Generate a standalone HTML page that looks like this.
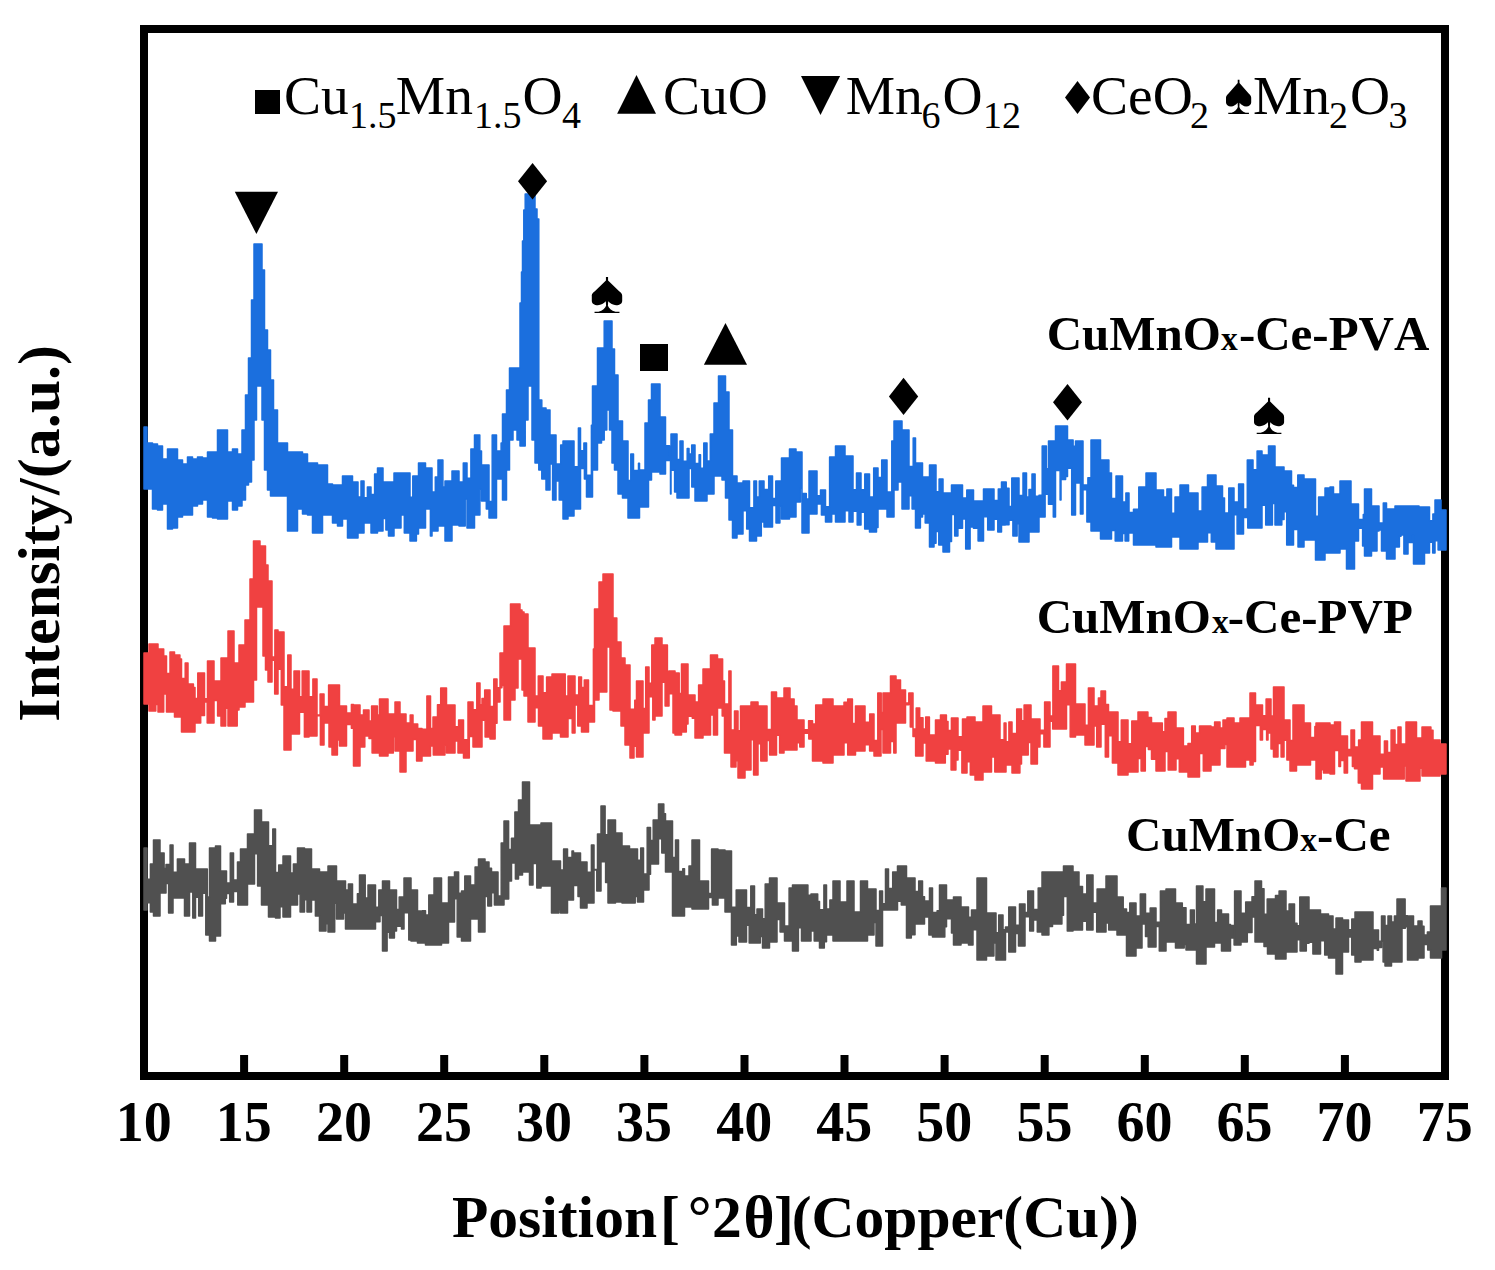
<!DOCTYPE html>
<html><head><meta charset="utf-8"><style>html,body{margin:0;padding:0;background:#fff;overflow:hidden}svg{display:block}</style></head>
<body><svg width="1495" height="1270" viewBox="0 0 1495 1270" style="font-kerning:none">
<rect width="1495" height="1270" fill="#fff"/>
<rect x="144" y="29" width="1301" height="1047" fill="none" stroke="#000" stroke-width="8"/>
<rect x="240.1" y="1055" width="8" height="18" fill="#000"/><rect x="340.2" y="1055" width="8" height="18" fill="#000"/><rect x="440.2" y="1055" width="8" height="18" fill="#000"/><rect x="540.3" y="1055" width="8" height="18" fill="#000"/><rect x="640.4" y="1055" width="8" height="18" fill="#000"/><rect x="740.5" y="1055" width="8" height="18" fill="#000"/><rect x="840.5" y="1055" width="8" height="18" fill="#000"/><rect x="940.6" y="1055" width="8" height="18" fill="#000"/><rect x="1040.7" y="1055" width="8" height="18" fill="#000"/><rect x="1140.8" y="1055" width="8" height="18" fill="#000"/><rect x="1240.8" y="1055" width="8" height="18" fill="#000"/><rect x="1340.9" y="1055" width="8" height="18" fill="#000"/>
<g stroke-width="1.5" stroke-linejoin="round">
<path d="M144.0 848.0 L147.0 848.0 L147.0 879.3 L150.4 879.3 L150.4 864.0 L153.5 864.0 L153.5 840.0 L156.6 840.0 L156.6 840.0 L160.0 840.0 L160.0 853.0 L164.1 853.0 L164.1 868.5 L166.0 868.5 L166.0 864.5 L170.1 864.5 L170.1 845.0 L173.0 845.0 L173.0 872.3 L177.4 872.3 L177.4 859.0 L179.5 859.0 L179.5 859.0 L184.5 859.0 L184.5 864.0 L187.6 864.0 L187.6 864.0 L189.5 864.0 L189.5 843.0 L195.5 843.0 L195.5 869.0 L202.5 869.0 L202.5 869.0 L207.3 869.0 L207.3 897.0 L209.5 897.0 L209.5 848.0 L212.9 848.0 L212.9 848.0 L215.5 848.0 L215.5 846.0 L220.5 846.0 L220.5 871.0 L226.5 871.0 L226.5 883.1 L230.3 883.1 L230.3 853.0 L233.5 853.0 L233.5 880.0 L237.5 880.0 L237.5 862.0 L240.5 862.0 L240.5 849.0 L247.5 849.0 L247.5 834.0 L254.5 834.0 L254.5 810.0 L261.5 810.0 L261.5 822.0 L268.5 822.0 L268.5 845.7 L272.8 845.7 L272.8 829.0 L275.5 829.0 L275.5 872.5 L278.7 872.5 L278.7 865.0 L283.0 865.0 L283.0 856.0 L286.4 856.0 L286.4 856.0 L290.5 856.0 L290.5 872.9 L293.4 872.9 L293.4 864.0 L297.5 864.0 L297.5 848.0 L300.7 848.0 L300.7 848.0 L304.5 848.0 L304.5 849.0 L311.5 849.0 L311.5 869.0 L319.5 869.0 L319.5 872.0 L324.8 872.0 L324.8 872.0 L328.0 872.0 L328.0 866.0 L331.3 866.0 L331.3 866.0 L336.5 866.0 L336.5 881.0 L340.4 881.0 L340.4 881.0 L345.5 881.0 L345.5 890.0 L348.4 890.0 L348.4 884.0 L352.5 884.0 L352.5 904.0 L357.4 904.0 L357.4 893.7 L359.5 893.7 L359.5 875.0 L365.2 875.0 L365.2 898.0 L368.0 898.0 L368.0 885.0 L372.9 885.0 L372.9 885.0 L375.5 885.0 L375.5 907.3 L378.8 907.3 L378.8 890.0 L382.5 890.0 L382.5 881.0 L385.6 881.0 L385.6 881.0 L389.5 881.0 L389.5 890.0 L392.6 890.0 L392.6 890.0 L396.5 890.0 L396.5 909.4 L399.2 909.4 L399.2 897.0 L404.0 897.0 L404.0 878.0 L408.6 878.0 L408.6 878.0 L411.0 878.0 L411.0 890.0 L414.1 890.0 L414.1 890.0 L417.5 890.0 L417.5 911.1 L422.4 911.1 L422.4 910.8 L425.5 910.8 L425.5 915.1 L428.8 915.1 L428.8 895.0 L434.0 895.0 L434.0 878.0 L438.7 878.0 L438.7 878.0 L441.5 878.0 L441.5 903.0 L448.5 903.0 L448.5 877.0 L452.9 877.0 L452.9 877.0 L454.5 877.0 L454.5 872.0 L458.6 872.0 L458.6 893.3 L461.5 893.3 L461.5 891.0 L464.8 891.0 L464.8 876.0 L470.5 876.0 L470.5 885.1 L475.1 885.1 L475.1 867.0 L478.5 867.0 L478.5 859.0 L485.0 859.0 L485.0 862.0 L489.0 862.0 L489.0 868.2 L491.5 868.2 L491.5 872.0 L498.0 872.0 L498.0 896.0 L501.2 896.0 L501.2 843.0 L504.0 843.0 L504.0 821.0 L508.6 821.0 L508.6 849.5 L511.5 849.5 L511.5 838.3 L514.9 838.3 L514.9 812.0 L518.5 812.0 L518.5 800.0 L522.5 800.0 L522.5 782.0 L526.0 782.0 L526.0 782.0 L529.5 782.0 L529.5 825.0 L533.0 825.0 L533.0 825.0 L541.0 825.0 L541.0 823.0 L547.4 823.0 L547.4 823.0 L551.5 823.0 L551.5 861.0 L556.8 861.0 L556.8 861.0 L560.5 861.0 L560.5 870.1 L563.6 870.1 L563.6 849.0 L567.5 849.0 L567.5 857.6 L572.0 857.6 L572.0 851.0 L573.5 851.0 L573.5 853.0 L580.5 853.0 L580.5 862.0 L587.0 862.0 L587.0 872.2 L591.4 872.2 L591.4 845.0 L594.0 845.0 L594.0 869.5 L597.5 869.5 L597.5 834.0 L601.0 834.0 L601.0 806.0 L605.1 806.0 L605.1 834.8 L608.0 834.8 L608.0 820.0 L611.9 820.0 L611.9 820.0 L615.5 820.0 L615.5 833.0 L619.3 833.0 L619.3 833.0 L622.0 833.0 L622.0 846.0 L629.5 846.0 L629.5 849.0 L632.5 849.0 L632.5 849.0 L637.5 849.0 L637.5 860.3 L640.7 860.3 L640.7 848.0 L643.5 848.0 L643.5 874.0 L647.2 874.0 L647.2 827.6 L650.5 827.6 L650.5 840.4 L653.2 840.4 L653.2 820.0 L658.5 820.0 L658.5 804.0 L663.8 804.0 L663.8 813.7 L665.5 813.7 L665.5 821.0 L672.5 821.0 L672.5 857.4 L675.5 857.4 L675.5 840.0 L678.5 840.0 L678.5 871.5 L682.8 871.5 L682.8 868.8 L684.5 868.8 L684.5 876.1 L689.0 876.1 L689.0 866.0 L692.0 866.0 L692.0 840.0 L696.9 840.0 L696.9 840.0 L699.5 840.0 L699.5 881.0 L705.7 881.0 L705.7 881.0 L708.5 881.0 L708.5 897.6 L711.6 897.6 L711.6 849.0 L718.0 849.0 L718.0 850.0 L722.9 850.0 L722.9 850.0 L725.0 850.0 L725.0 851.0 L731.5 851.0 L731.5 907.2 L736.2 907.2 L736.2 890.0 L739.0 890.0 L739.0 890.0 L745.0 890.0 L745.0 890.0 L746.5 890.0 L746.5 907.4 L750.8 907.4 L750.8 886.0 L754.5 886.0 L754.5 914.7 L757.0 914.7 L757.0 909.0 L762.5 909.0 L762.5 918.8 L765.2 918.8 L765.2 884.0 L769.5 884.0 L769.5 878.0 L772.6 878.0 L772.6 878.0 L777.0 878.0 L777.0 903.0 L784.5 903.0 L784.5 926.0 L789.1 926.0 L789.1 888.0 L792.5 888.0 L792.5 885.0 L799.0 885.0 L799.0 885.0 L801.5 885.0 L801.5 885.0 L807.9 885.0 L807.9 895.2 L811.0 895.2 L811.0 894.0 L817.7 894.0 L817.7 901.5 L819.5 901.5 L819.5 909.7 L823.9 909.7 L823.9 885.0 L826.5 885.0 L826.5 909.0 L829.9 909.0 L829.9 900.0 L833.0 900.0 L833.0 881.0 L840.0 881.0 L840.0 902.0 L847.0 902.0 L847.0 881.0 L854.0 881.0 L854.0 912.0 L860.5 912.0 L860.5 881.0 L865.7 881.0 L865.7 881.0 L867.5 881.0 L867.5 889.0 L870.9 889.0 L870.9 889.0 L876.0 889.0 L876.0 910.6 L879.6 910.6 L879.6 891.0 L882.5 891.0 L882.5 903.8 L885.5 903.8 L885.5 869.0 L888.5 869.0 L888.5 888.5 L892.7 888.5 L892.7 872.0 L897.5 872.0 L897.5 866.0 L902.4 866.0 L902.4 866.0 L906.5 866.0 L906.5 878.0 L910.7 878.0 L910.7 878.0 L915.0 878.0 L915.0 891.6 L918.7 891.6 L918.7 881.0 L922.5 881.0 L922.5 896.7 L924.5 896.7 L924.5 901.1 L929.5 901.1 L929.5 888.0 L932.5 888.0 L932.5 912.6 L937.1 912.6 L937.1 910.8 L939.5 910.8 L939.5 885.0 L944.3 885.0 L944.3 885.0 L946.5 885.0 L946.5 900.0 L950.5 900.0 L950.5 900.0 L953.5 900.0 L953.5 897.0 L961.0 897.0 L961.0 907.0 L968.5 907.0 L968.5 917.2 L971.5 917.2 L971.5 910.0 L975.3 910.0 L975.3 910.0 L977.0 910.0 L977.0 878.0 L981.1 878.0 L981.1 878.0 L986.5 878.0 L986.5 913.0 L991.4 913.0 L991.4 913.0 L996.0 913.0 L996.0 932.8 L998.7 932.8 L998.7 915.0 L1003.0 915.0 L1003.0 929.7 L1005.5 929.7 L1005.5 926.9 L1008.8 926.9 L1008.8 907.0 L1015.5 907.0 L1015.5 925.3 L1019.5 925.3 L1019.5 904.0 L1025.0 904.0 L1025.0 912.4 L1027.8 912.4 L1027.8 891.0 L1033.5 891.0 L1033.5 909.5 L1038.2 909.5 L1038.2 888.0 L1042.0 888.0 L1042.0 872.0 L1046.7 872.0 L1046.7 872.0 L1052.5 872.0 L1052.5 872.0 L1056.8 872.0 L1056.8 872.0 L1063.5 872.0 L1063.5 866.0 L1067.7 866.0 L1067.7 866.0 L1073.0 866.0 L1073.0 872.0 L1079.0 872.0 L1079.0 886.4 L1082.5 886.4 L1082.5 893.9 L1086.8 893.9 L1086.8 875.0 L1093.0 875.0 L1093.0 903.1 L1097.1 903.1 L1097.1 889.0 L1100.9 889.0 L1100.9 889.0 L1106.0 889.0 L1106.0 876.0 L1113.2 876.0 L1113.2 876.0 L1117.0 876.0 L1117.0 897.0 L1123.2 897.0 L1123.2 909.1 L1126.5 909.1 L1126.5 912.4 L1129.8 912.4 L1129.8 903.0 L1133.1 903.0 L1133.1 903.0 L1136.0 903.0 L1136.0 915.9 L1140.3 915.9 L1140.3 894.0 L1145.5 894.0 L1145.5 913.2 L1150.2 913.2 L1150.2 908.0 L1156.0 908.0 L1156.0 922.2 L1160.4 922.2 L1160.4 891.0 L1166.0 891.0 L1166.0 889.0 L1171.4 889.0 L1171.4 889.0 L1175.5 889.0 L1175.5 903.0 L1182.3 903.0 L1182.3 907.7 L1186.0 907.7 L1186.0 924.4 L1190.4 924.4 L1190.4 910.0 L1194.3 910.0 L1194.3 924.1 L1196.5 924.1 L1196.5 886.0 L1202.9 886.0 L1202.9 901.8 L1206.0 901.8 L1206.0 889.0 L1211.4 889.0 L1211.4 889.0 L1214.5 889.0 L1214.5 922.5 L1217.6 922.5 L1217.6 910.0 L1221.5 910.0 L1221.5 914.0 L1228.5 914.0 L1228.5 924.5 L1230.5 924.5 L1230.5 937.9 L1234.6 937.9 L1234.6 891.0 L1241.0 891.0 L1241.0 913.2 L1245.7 913.2 L1245.7 902.0 L1252.0 902.0 L1252.0 896.8 L1255.0 896.8 L1255.0 881.0 L1261.5 881.0 L1261.5 888.7 L1264.0 888.7 L1264.0 914.3 L1267.2 914.3 L1267.2 899.0 L1272.4 899.0 L1272.4 899.0 L1275.5 899.0 L1275.5 895.4 L1279.1 895.4 L1279.1 891.0 L1286.0 891.0 L1286.0 911.0 L1289.1 911.0 L1289.1 904.0 L1294.5 904.0 L1294.5 923.2 L1297.0 923.2 L1297.0 925.8 L1299.8 925.8 L1299.8 897.0 L1305.5 897.0 L1305.5 897.0 L1309.0 897.0 L1309.0 910.0 L1313.5 910.0 L1313.5 910.0 L1320.5 910.0 L1320.5 914.0 L1325.5 914.0 L1325.5 914.0 L1328.5 914.0 L1328.5 916.0 L1333.0 916.0 L1333.0 929.0 L1336.0 929.0 L1336.0 918.0 L1338.5 918.0 L1338.5 918.0 L1342.5 918.0 L1342.5 920.0 L1348.5 920.0 L1348.5 929.8 L1351.8 929.8 L1351.8 919.0 L1355.0 919.0 L1355.0 912.0 L1358.8 912.0 L1358.8 912.0 L1361.0 912.0 L1361.0 912.0 L1367.0 912.0 L1367.0 912.0 L1373.0 912.0 L1373.0 930.0 L1378.5 930.0 L1378.5 947.4 L1381.5 947.4 L1381.5 916.0 L1385.0 916.0 L1385.0 925.5 L1388.0 925.5 L1388.0 916.0 L1391.5 916.0 L1391.5 921.9 L1394.4 921.9 L1394.4 916.0 L1397.0 916.0 L1397.0 899.0 L1402.0 899.0 L1402.0 899.0 L1405.1 899.0 L1405.1 915.7 L1407.5 915.7 L1407.5 916.0 L1413.5 916.0 L1413.5 926.0 L1418.0 926.0 L1418.0 921.0 L1422.0 921.0 L1422.0 926.2 L1424.0 926.2 L1424.0 934.9 L1427.4 934.9 L1427.4 932.0 L1430.5 932.0 L1430.5 906.0 L1436.0 906.0 L1436.0 906.0 L1441.5 906.0 L1441.5 888.0 L1445.0 888.0 L1445.0 888.0 L1446.0 888.0 L1446.0 950.0 L1445.0 950.0 L1445.0 950.0 L1441.5 950.0 L1441.5 958.0 L1439.5 958.0 L1439.5 958.0 L1436.0 958.0 L1436.0 958.0 L1430.5 958.0 L1430.5 950.0 L1427.7 950.0 L1427.7 944.5 L1424.0 944.5 L1424.0 958.0 L1418.0 958.0 L1418.0 960.0 L1413.5 960.0 L1413.5 960.0 L1407.5 960.0 L1407.5 926.7 L1405.3 926.7 L1405.3 928.3 L1402.0 928.3 L1402.0 962.0 L1400.4 962.0 L1400.4 962.0 L1397.0 962.0 L1397.0 962.0 L1391.5 962.0 L1391.5 966.0 L1385.0 966.0 L1385.0 962.0 L1383.1 962.0 L1383.1 941.2 L1378.5 941.2 L1378.5 950.2 L1377.3 950.2 L1377.3 948.4 L1373.0 948.4 L1373.0 960.0 L1367.0 960.0 L1367.0 960.0 L1361.0 960.0 L1361.0 962.0 L1355.0 962.0 L1355.0 955.0 L1351.7 955.0 L1351.7 937.0 L1348.5 937.0 L1348.5 952.0 L1342.5 952.0 L1342.5 974.0 L1338.5 974.0 L1338.5 974.0 L1336.0 974.0 L1336.0 958.0 L1333.0 958.0 L1333.0 958.0 L1328.5 958.0 L1328.5 955.0 L1324.7 955.0 L1324.7 940.8 L1320.5 940.8 L1320.5 954.0 L1312.9 954.0 L1312.9 942.2 L1309.0 942.2 L1309.0 943.3 L1306.3 943.3 L1306.3 951.0 L1300.1 951.0 L1300.1 939.8 L1297.0 939.8 L1297.0 952.0 L1290.8 952.0 L1290.8 952.0 L1286.0 952.0 L1286.0 959.0 L1283.9 959.0 L1283.9 959.0 L1278.7 959.0 L1278.7 959.0 L1275.5 959.0 L1275.5 954.0 L1267.5 954.0 L1267.5 946.4 L1264.0 946.4 L1264.0 942.0 L1259.0 942.0 L1259.0 942.0 L1255.0 942.0 L1255.0 917.1 L1252.0 917.1 L1252.0 932.5 L1247.3 932.5 L1247.3 942.0 L1241.0 942.0 L1241.0 945.0 L1239.5 945.0 L1239.5 945.0 L1234.1 945.0 L1234.1 925.6 L1230.5 925.6 L1230.5 951.0 L1225.4 951.0 L1225.4 951.0 L1221.5 951.0 L1221.5 943.0 L1214.5 943.0 L1214.5 947.0 L1211.4 947.0 L1211.4 947.0 L1206.0 947.0 L1206.0 964.0 L1200.5 964.0 L1200.5 964.0 L1196.5 964.0 L1196.5 950.0 L1191.4 950.0 L1191.4 950.0 L1186.0 950.0 L1186.0 944.5 L1184.2 944.5 L1184.2 948.0 L1179.4 948.0 L1179.4 948.0 L1175.5 948.0 L1175.5 942.0 L1170.9 942.0 L1170.9 942.0 L1166.0 942.0 L1166.0 951.0 L1162.3 951.0 L1162.3 951.0 L1159.3 951.0 L1159.3 926.5 L1156.0 926.5 L1156.0 947.0 L1148.2 947.0 L1148.2 936.6 L1145.5 936.6 L1145.5 924.1 L1142.0 924.1 L1142.0 948.0 L1136.0 948.0 L1136.0 956.0 L1131.8 956.0 L1131.8 956.0 L1126.5 956.0 L1126.5 935.0 L1120.8 935.0 L1120.8 935.0 L1117.0 935.0 L1117.0 930.0 L1113.3 930.0 L1113.3 930.0 L1108.7 930.0 L1108.7 923.0 L1106.0 923.0 L1106.0 932.0 L1101.0 932.0 L1101.0 932.0 L1096.7 932.0 L1096.7 912.2 L1093.0 912.2 L1093.0 930.0 L1086.7 930.0 L1086.7 921.2 L1082.5 921.2 L1082.5 930.0 L1079.7 930.0 L1079.7 930.0 L1073.0 930.0 L1073.0 931.0 L1067.3 931.0 L1067.3 896.4 L1063.5 896.4 L1063.5 915.2 L1061.9 915.2 L1061.9 924.0 L1058.3 924.0 L1058.3 924.0 L1052.5 924.0 L1052.5 926.4 L1048.9 926.4 L1048.9 935.0 L1042.0 935.0 L1042.0 932.0 L1037.3 932.0 L1037.3 919.9 L1033.5 919.9 L1033.5 931.0 L1029.7 931.0 L1029.7 916.8 L1025.0 916.8 L1025.0 946.0 L1018.5 946.0 L1018.5 933.4 L1015.5 933.4 L1015.5 952.0 L1008.8 952.0 L1008.8 932.1 L1005.5 932.1 L1005.5 960.0 L1000.9 960.0 L1000.9 960.0 L996.0 960.0 L996.0 942.9 L993.9 942.9 L993.9 956.0 L986.5 956.0 L986.5 960.0 L982.2 960.0 L982.2 960.0 L977.0 960.0 L977.0 929.7 L973.0 929.7 L973.0 945.0 L968.5 945.0 L968.5 943.0 L964.6 943.0 L964.6 943.0 L961.0 943.0 L961.0 945.0 L953.5 945.0 L953.5 933.0 L951.5 933.0 L951.5 918.8 L946.5 918.8 L946.5 926.7 L944.8 926.7 L944.8 937.0 L939.5 937.0 L939.5 937.0 L936.2 937.0 L936.2 937.0 L932.5 937.0 L932.5 935.0 L928.9 935.0 L928.9 916.9 L924.5 916.9 L924.5 924.0 L921.6 924.0 L921.6 924.0 L915.0 924.0 L915.0 934.7 L911.3 934.7 L911.3 938.0 L906.5 938.0 L906.5 905.0 L901.3 905.0 L901.3 901.2 L897.5 901.2 L897.5 910.0 L892.3 910.0 L892.3 910.0 L888.5 910.0 L888.5 910.0 L886.4 910.0 L886.4 910.0 L882.5 910.0 L882.5 946.0 L876.0 946.0 L876.0 922.5 L874.0 922.5 L874.0 935.0 L867.5 935.0 L867.5 941.0 L863.6 941.0 L863.6 941.0 L860.5 941.0 L860.5 941.0 L854.0 941.0 L854.0 941.0 L851.1 941.0 L851.1 941.0 L847.0 941.0 L847.0 941.0 L840.0 941.0 L840.0 941.0 L836.3 941.0 L836.3 941.0 L833.0 941.0 L833.0 935.0 L830.1 935.0 L830.1 935.0 L826.5 935.0 L826.5 941.7 L824.3 941.7 L824.3 948.0 L819.5 948.0 L819.5 941.0 L814.2 941.0 L814.2 931.1 L811.0 931.1 L811.0 941.0 L805.4 941.0 L805.4 941.0 L801.5 941.0 L801.5 927.7 L798.4 927.7 L798.4 951.0 L792.5 951.0 L792.5 941.0 L788.3 941.0 L788.3 941.0 L784.5 941.0 L784.5 932.0 L780.1 932.0 L780.1 919.4 L777.0 919.4 L777.0 942.0 L773.7 942.0 L773.7 942.0 L769.5 942.0 L769.5 948.0 L765.8 948.0 L765.8 948.0 L762.5 948.0 L762.5 936.5 L760.3 936.5 L760.3 943.0 L754.5 943.0 L754.5 943.0 L749.2 943.0 L749.2 925.3 L746.5 925.3 L746.5 942.0 L742.4 942.0 L742.4 942.0 L739.0 942.0 L739.0 935.9 L736.3 935.9 L736.3 945.0 L731.5 945.0 L731.5 912.0 L725.0 912.0 L725.0 898.0 L722.4 898.0 L722.4 898.0 L718.0 898.0 L718.0 905.0 L712.4 905.0 L712.4 893.5 L708.5 893.5 L708.5 909.0 L704.8 909.0 L704.8 909.0 L699.5 909.0 L699.5 909.0 L695.5 909.0 L695.5 909.0 L692.0 909.0 L692.0 907.0 L689.7 907.0 L689.7 907.0 L684.5 907.0 L684.5 916.0 L678.5 916.0 L678.5 916.0 L672.5 916.0 L672.5 872.0 L665.5 872.0 L665.5 853.0 L661.8 853.0 L661.8 838.7 L658.5 838.7 L658.5 864.0 L655.5 864.0 L655.5 864.0 L650.5 864.0 L650.5 874.2 L649.0 874.2 L649.0 890.0 L643.5 890.0 L643.5 902.0 L637.5 902.0 L637.5 896.4 L635.2 896.4 L635.2 903.0 L629.5 903.0 L629.5 903.0 L622.0 903.0 L622.0 902.0 L615.5 902.0 L615.5 903.0 L608.0 903.0 L608.0 882.4 L605.6 882.4 L605.6 861.8 L601.0 861.8 L601.0 891.0 L596.8 891.0 L596.8 869.9 L594.0 869.9 L594.0 903.0 L587.0 903.0 L587.0 908.0 L580.5 908.0 L580.5 896.5 L578.0 896.5 L578.0 885.6 L573.5 885.6 L573.5 900.0 L570.9 900.0 L570.9 900.0 L567.5 900.0 L567.5 913.0 L565.0 913.0 L565.0 913.0 L560.5 913.0 L560.5 909.7 L558.9 909.7 L558.9 913.0 L551.5 913.0 L551.5 886.0 L546.1 886.0 L546.1 886.0 L541.0 886.0 L541.0 888.0 L536.8 888.0 L536.8 863.6 L533.0 863.6 L533.0 885.0 L529.5 885.0 L529.5 872.0 L526.0 872.0 L526.0 872.0 L522.5 872.0 L522.5 875.0 L518.5 875.0 L518.5 879.0 L515.4 879.0 L515.4 863.0 L511.5 863.0 L511.5 881.1 L508.7 881.1 L508.7 899.0 L504.0 899.0 L504.0 905.0 L498.0 905.0 L498.0 905.0 L494.4 905.0 L494.4 892.7 L491.5 892.7 L491.5 906.0 L487.8 906.0 L487.8 896.4 L485.0 896.4 L485.0 932.0 L478.5 932.0 L478.5 919.0 L475.4 919.0 L475.4 919.0 L470.5 919.0 L470.5 941.0 L467.4 941.0 L467.4 941.0 L461.5 941.0 L461.5 937.0 L457.2 937.0 L457.2 898.7 L454.5 898.7 L454.5 922.0 L452.8 922.0 L452.8 922.0 L448.5 922.0 L448.5 943.0 L441.5 943.0 L441.5 945.0 L434.0 945.0 L434.0 945.0 L425.5 945.0 L425.5 943.0 L422.9 943.0 L422.9 943.0 L417.5 943.0 L417.5 941.0 L411.0 941.0 L411.0 940.0 L408.8 940.0 L408.8 912.7 L404.0 912.7 L404.0 928.9 L401.5 928.9 L401.5 926.2 L396.5 926.2 L396.5 931.0 L394.4 931.0 L394.4 938.0 L389.5 938.0 L389.5 932.2 L387.1 932.2 L387.1 951.0 L382.5 951.0 L382.5 915.4 L380.0 915.4 L380.0 921.7 L375.5 921.7 L375.5 929.0 L371.5 929.0 L371.5 929.0 L368.0 929.0 L368.0 929.0 L364.1 929.0 L364.1 929.0 L359.5 929.0 L359.5 929.0 L352.5 929.0 L352.5 929.0 L345.5 929.0 L345.5 912.9 L343.5 912.9 L343.5 919.0 L336.5 919.0 L336.5 903.2 L334.7 903.2 L334.7 932.0 L328.0 932.0 L328.0 923.8 L326.0 923.8 L326.0 931.0 L319.5 931.0 L319.5 916.0 L315.4 916.0 L315.4 899.9 L311.5 899.9 L311.5 912.0 L307.0 912.0 L307.0 899.7 L304.5 899.7 L304.5 912.0 L300.1 912.0 L300.1 894.1 L297.5 894.1 L297.5 905.0 L293.9 905.0 L293.9 905.0 L290.5 905.0 L290.5 917.0 L286.5 917.0 L286.5 917.0 L283.0 917.0 L283.0 906.7 L280.0 906.7 L280.0 918.0 L275.5 918.0 L275.5 917.0 L268.5 917.0 L268.5 905.0 L261.5 905.0 L261.5 886.0 L257.6 886.0 L257.6 853.7 L254.5 853.7 L254.5 884.0 L252.6 884.0 L252.6 884.0 L247.5 884.0 L247.5 905.0 L240.5 905.0 L240.5 905.0 L237.8 905.0 L237.8 891.4 L233.5 891.4 L233.5 902.0 L229.7 902.0 L229.7 893.4 L226.5 893.4 L226.5 898.3 L225.3 898.3 L225.3 903.7 L220.5 903.7 L220.5 936.0 L215.5 936.0 L215.5 941.0 L209.5 941.0 L209.5 935.0 L205.8 935.0 L205.8 893.3 L202.5 893.3 L202.5 916.0 L198.7 916.0 L198.7 897.2 L195.5 897.2 L195.5 918.0 L192.8 918.0 L192.8 892.0 L189.5 892.0 L189.5 916.0 L184.5 916.0 L184.5 898.0 L179.5 898.0 L179.5 898.0 L176.9 898.0 L176.9 898.0 L173.0 898.0 L173.0 913.0 L168.6 913.0 L168.6 883.6 L166.0 883.6 L166.0 893.0 L163.1 893.0 L163.1 893.0 L160.0 893.0 L160.0 916.0 L153.5 916.0 L153.5 912.0 L150.4 912.0 L150.4 902.8 L147.0 902.8 L147.0 910.0 L144.0 910.0Z" fill="#505050" stroke="#505050"/>
<path d="M144.0 653.0 L149.0 653.0 L149.0 644.0 L152.3 644.0 L152.3 644.0 L155.6 644.0 L155.6 644.0 L158.0 644.0 L158.0 649.0 L163.7 649.0 L163.7 656.0 L166.5 656.0 L166.5 673.5 L170.0 673.5 L170.0 652.0 L174.5 652.0 L174.5 655.0 L179.9 655.0 L179.9 658.9 L181.5 658.9 L181.5 678.5 L185.2 678.5 L185.2 663.0 L188.0 663.0 L188.0 684.0 L193.4 684.0 L193.4 687.4 L195.0 687.4 L195.0 698.4 L197.8 698.4 L197.8 673.0 L204.5 673.0 L204.5 698.7 L207.5 698.7 L207.5 661.0 L214.0 661.0 L214.0 681.0 L221.0 681.0 L221.0 658.0 L228.0 658.0 L228.0 631.0 L234.0 631.0 L234.0 663.0 L239.0 663.0 L239.0 645.0 L245.0 645.0 L245.0 620.0 L250.0 620.0 L250.0 579.0 L253.5 579.0 L253.5 541.0 L256.5 541.0 L256.5 541.0 L260.0 541.0 L260.0 546.0 L263.0 546.0 L263.0 546.0 L265.5 546.0 L265.5 565.0 L268.0 565.0 L268.0 581.0 L272.0 581.0 L272.0 656.9 L274.9 656.9 L274.9 630.0 L278.0 630.0 L278.0 632.0 L282.4 632.0 L282.4 632.0 L284.0 632.0 L284.0 686.8 L287.8 686.8 L287.8 655.0 L291.0 655.0 L291.0 689.2 L294.0 689.2 L294.0 671.0 L299.5 671.0 L299.5 696.8 L302.2 696.8 L302.2 671.0 L309.0 671.0 L309.0 696.8 L312.9 696.8 L312.9 679.0 L317.0 679.0 L317.0 714.9 L320.1 714.9 L320.1 694.0 L324.0 694.0 L324.0 706.4 L328.6 706.4 L328.6 685.0 L332.0 685.0 L332.0 685.0 L336.9 685.0 L336.9 685.0 L339.5 685.0 L339.5 706.0 L344.1 706.0 L344.1 706.0 L346.5 706.0 L346.5 713.1 L351.4 713.1 L351.4 704.6 L353.5 704.6 L353.5 705.0 L357.2 705.0 L357.2 705.0 L360.0 705.0 L360.0 715.0 L363.5 715.0 L363.5 710.0 L369.0 710.0 L369.0 721.0 L371.6 721.0 L371.6 706.0 L377.4 706.0 L377.4 715.1 L379.5 715.1 L379.5 699.0 L384.5 699.0 L384.5 699.0 L388.0 699.0 L388.0 714.0 L395.0 714.0 L395.0 702.0 L400.0 702.0 L400.0 714.0 L406.0 714.0 L406.0 723.1 L410.2 723.1 L410.2 715.0 L413.0 715.0 L413.0 724.1 L417.7 724.1 L417.7 728.6 L422.0 728.6 L422.0 729.3 L426.9 729.3 L426.9 696.0 L430.5 696.0 L430.5 728.6 L433.0 728.6 L433.0 717.0 L437.5 717.0 L437.5 704.8 L440.7 704.8 L440.7 688.0 L444.4 688.0 L444.4 688.0 L446.5 688.0 L446.5 705.0 L455.0 705.0 L455.0 726.7 L458.6 726.7 L458.6 720.0 L463.5 720.0 L463.5 739.8 L468.0 739.8 L468.0 702.0 L473.0 702.0 L473.0 709.8 L476.8 709.8 L476.8 683.0 L480.0 683.0 L480.0 704.7 L482.0 704.7 L482.0 698.5 L484.7 698.5 L484.7 690.0 L490.0 690.0 L490.0 706.4 L493.8 706.4 L493.8 679.0 L497.0 679.0 L497.0 702.1 L500.0 702.1 L500.0 653.0 L504.0 653.0 L504.0 626.0 L509.0 626.0 L509.0 626.0 L510.5 626.0 L510.5 604.0 L515.0 604.0 L515.0 604.0 L518.0 604.0 L518.0 604.0 L520.0 604.0 L520.0 610.0 L522.0 610.0 L522.0 612.0 L524.0 612.0 L524.0 614.0 L528.0 614.0 L528.0 648.0 L532.7 648.0 L532.7 648.0 L535.0 648.0 L535.0 695.9 L538.3 695.9 L538.3 676.0 L543.0 676.0 L543.0 692.8 L546.6 692.8 L546.6 677.0 L552.0 677.0 L552.0 674.0 L557.6 674.0 L557.6 674.0 L560.5 674.0 L560.5 674.0 L565.2 674.0 L565.2 696.1 L568.0 696.1 L568.0 676.0 L575.0 676.0 L575.0 695.1 L578.7 695.1 L578.7 677.0 L581.5 677.0 L581.5 687.6 L584.3 687.6 L584.3 680.0 L588.5 680.0 L588.5 705.4 L593.4 705.4 L593.4 649.0 L594.5 649.0 L594.5 609.0 L599.0 609.0 L599.0 582.0 L603.0 582.0 L603.0 574.0 L606.8 574.0 L606.8 574.0 L610.0 574.0 L610.0 574.0 L613.0 574.0 L613.0 618.0 L616.8 618.0 L616.8 642.0 L621.0 642.0 L621.0 658.0 L625.0 658.0 L625.0 665.0 L630.0 665.0 L630.0 709.2 L634.8 709.2 L634.8 700.3 L636.5 700.3 L636.5 681.0 L640.2 681.0 L640.2 681.0 L643.0 681.0 L643.0 708.4 L645.7 708.4 L645.7 667.0 L649.0 667.0 L649.0 683.3 L651.8 683.3 L651.8 645.0 L655.0 645.0 L655.0 638.0 L662.0 638.0 L662.0 645.0 L667.4 645.0 L667.4 671.2 L669.0 671.2 L669.0 671.0 L672.4 671.0 L672.4 671.0 L675.0 671.0 L675.0 673.0 L679.2 673.0 L679.2 693.5 L681.5 693.5 L681.5 664.0 L688.0 664.0 L688.0 695.0 L695.0 695.0 L695.0 701.9 L698.6 701.9 L698.6 685.0 L703.0 685.0 L703.0 669.0 L706.8 669.0 L706.8 669.0 L710.5 669.0 L710.5 655.0 L715.3 655.0 L715.3 655.0 L717.5 655.0 L717.5 659.0 L722.6 659.0 L722.6 680.9 L724.5 680.9 L724.5 703.9 L728.9 703.9 L728.9 671.0 L731.0 671.0 L731.0 730.0 L734.5 730.0 L734.5 711.0 L738.0 711.0 L738.0 730.7 L740.5 730.7 L740.5 706.0 L745.0 706.0 L745.0 706.0 L751.0 706.0 L751.0 702.0 L754.1 702.0 L754.1 702.0 L758.0 702.0 L758.0 706.0 L763.7 706.0 L763.7 706.0 L767.0 706.0 L767.0 729.5 L771.5 729.5 L771.5 692.0 L776.5 692.0 L776.5 698.0 L782.1 698.0 L782.1 698.0 L784.0 698.0 L784.0 688.0 L790.0 688.0 L790.0 699.0 L794.1 699.0 L794.1 706.1 L797.0 706.1 L797.0 720.0 L800.3 720.0 L800.3 720.0 L804.0 720.0 L804.0 733.2 L808.6 733.2 L808.6 720.8 L812.5 720.8 L812.5 724.0 L815.7 724.0 L815.7 705.0 L818.8 705.0 L818.8 705.0 L823.0 705.0 L823.0 699.0 L826.8 699.0 L826.8 699.0 L833.0 699.0 L833.0 706.0 L839.0 706.0 L839.0 706.0 L844.0 706.0 L844.0 702.2 L847.7 702.2 L847.7 699.0 L852.4 699.0 L852.4 723.5 L855.5 723.5 L855.5 706.0 L860.9 706.0 L860.9 706.0 L865.0 706.0 L865.0 722.2 L869.7 722.2 L869.7 714.0 L874.0 714.0 L874.0 740.6 L877.8 740.6 L877.8 693.0 L881.2 693.0 L881.2 712.4 L883.0 712.4 L883.0 693.0 L888.9 693.0 L888.9 693.0 L890.5 693.0 L890.5 676.0 L896.0 676.0 L896.0 680.0 L900.5 680.0 L900.5 690.0 L905.5 690.0 L905.5 704.8 L908.8 704.8 L908.8 693.0 L913.0 693.0 L913.0 728.9 L916.2 728.9 L916.2 708.0 L919.7 708.0 L919.7 717.8 L923.0 717.8 L923.0 728.9 L925.7 728.9 L925.7 717.0 L929.4 717.0 L929.4 735.0 L935.5 735.0 L935.5 719.9 L940.5 719.9 L940.5 715.0 L946.4 715.0 L946.4 721.5 L948.0 721.5 L948.0 730.4 L951.4 730.4 L951.4 718.0 L958.0 718.0 L958.0 736.8 L962.5 736.8 L962.5 719.0 L967.0 719.0 L967.0 717.0 L971.5 717.0 L971.5 717.0 L975.0 717.0 L975.0 722.0 L980.3 722.0 L980.3 722.0 L983.0 722.0 L983.0 706.0 L989.4 706.0 L989.4 706.0 L991.5 706.0 L991.5 715.0 L1000.0 715.0 L1000.0 739.7 L1004.1 739.7 L1004.1 723.0 L1006.0 723.0 L1006.0 741.7 L1008.9 741.7 L1008.9 722.0 L1012.0 722.0 L1012.0 733.6 L1016.7 733.6 L1016.7 709.0 L1021.5 709.0 L1021.5 720.8 L1024.1 720.8 L1024.1 705.0 L1028.7 705.0 L1028.7 705.0 L1031.0 705.0 L1031.0 719.0 L1036.0 719.0 L1036.0 719.0 L1040.0 719.0 L1040.0 730.2 L1044.6 730.2 L1044.6 702.0 L1050.0 702.0 L1050.0 716.1 L1052.9 716.1 L1052.9 666.0 L1058.5 666.0 L1058.5 690.8 L1061.4 690.8 L1061.4 682.0 L1066.5 682.0 L1066.5 664.0 L1070.6 664.0 L1070.6 664.0 L1075.5 664.0 L1075.5 704.0 L1079.6 704.0 L1079.6 704.0 L1085.0 704.0 L1085.0 725.3 L1088.4 725.3 L1088.4 688.0 L1091.7 688.0 L1091.7 688.0 L1094.0 688.0 L1094.0 706.0 L1098.4 706.0 L1098.4 698.0 L1101.0 698.0 L1101.0 691.0 L1105.5 691.0 L1105.5 704.5 L1108.5 704.5 L1108.5 712.0 L1113.3 712.0 L1113.3 712.0 L1118.0 712.0 L1118.0 741.8 L1121.3 741.8 L1121.3 720.0 L1128.0 720.0 L1128.0 743.7 L1131.8 743.7 L1131.8 721.0 L1138.0 721.0 L1138.0 712.0 L1143.0 712.0 L1143.0 712.0 L1147.9 712.0 L1147.9 717.5 L1151.5 717.5 L1151.5 723.0 L1155.1 723.0 L1155.1 723.0 L1162.3 723.0 L1162.3 731.7 L1165.0 731.7 L1165.0 718.4 L1168.0 718.4 L1168.0 712.0 L1171.5 712.0 L1171.5 712.0 L1176.0 712.0 L1176.0 728.0 L1183.4 728.0 L1183.4 746.1 L1188.0 746.1 L1188.0 743.5 L1191.7 743.5 L1191.7 726.0 L1195.3 726.0 L1195.3 733.0 L1199.5 733.0 L1199.5 726.0 L1206.2 726.0 L1206.2 726.0 L1211.0 726.0 L1211.0 726.9 L1214.6 726.9 L1214.6 722.0 L1220.0 722.0 L1220.0 727.9 L1223.0 727.9 L1223.0 720.0 L1227.0 720.0 L1227.0 718.0 L1234.0 718.0 L1234.0 723.0 L1240.0 723.0 L1240.0 718.0 L1245.5 718.0 L1245.5 718.0 L1250.0 718.0 L1250.0 693.0 L1255.5 693.0 L1255.5 705.0 L1259.4 705.0 L1259.4 705.0 L1262.5 705.0 L1262.5 715.7 L1266.1 715.7 L1266.1 699.0 L1268.0 699.0 L1268.0 699.0 L1271.0 699.0 L1271.0 716.0 L1273.5 716.0 L1273.5 687.0 L1278.0 687.0 L1278.0 687.0 L1282.0 687.0 L1282.0 687.0 L1284.0 687.0 L1284.0 720.0 L1287.1 720.0 L1287.1 720.0 L1290.0 720.0 L1290.0 740.5 L1293.0 740.5 L1293.0 705.0 L1296.5 705.0 L1296.5 705.0 L1304.0 705.0 L1304.0 723.0 L1310.5 723.0 L1310.5 737.5 L1314.9 737.5 L1314.9 726.5 L1316.0 726.5 L1316.0 723.0 L1319.5 723.0 L1319.5 723.0 L1323.5 723.0 L1323.5 723.0 L1327.3 723.0 L1327.3 723.0 L1330.0 723.0 L1330.0 725.0 L1334.5 725.0 L1334.5 722.0 L1338.8 722.0 L1338.8 722.0 L1340.5 722.0 L1340.5 736.0 L1344.7 736.0 L1344.7 736.0 L1347.5 736.0 L1347.5 749.6 L1351.0 749.6 L1351.0 730.0 L1354.5 730.0 L1354.5 746.9 L1358.6 746.9 L1358.6 740.0 L1361.5 740.0 L1361.5 722.0 L1367.0 722.0 L1367.0 722.0 L1372.5 722.0 L1372.5 736.0 L1377.3 736.0 L1377.3 736.0 L1380.0 736.0 L1380.0 754.3 L1384.4 754.3 L1384.4 741.0 L1387.5 741.0 L1387.5 752.5 L1391.1 752.5 L1391.1 730.0 L1395.0 730.0 L1395.0 744.4 L1398.0 744.4 L1398.0 727.0 L1401.0 727.0 L1401.0 744.0 L1406.0 744.0 L1406.0 722.0 L1409.8 722.0 L1409.8 722.0 L1411.5 722.0 L1411.5 722.0 L1416.5 722.0 L1416.5 738.0 L1422.0 738.0 L1422.0 727.0 L1427.0 727.0 L1427.0 727.0 L1430.9 727.0 L1430.9 730.2 L1433.0 730.2 L1433.0 740.0 L1436.9 740.0 L1436.9 740.0 L1440.0 740.0 L1440.0 744.0 L1444.5 744.0 L1444.5 744.0 L1446.0 744.0 L1446.0 774.0 L1444.5 774.0 L1444.5 774.0 L1440.0 774.0 L1440.0 776.0 L1433.0 776.0 L1433.0 776.0 L1427.0 776.0 L1427.0 776.0 L1422.0 776.0 L1422.0 768.3 L1420.0 768.3 L1420.0 781.0 L1416.5 781.0 L1416.5 781.0 L1411.5 781.0 L1411.5 781.0 L1406.0 781.0 L1406.0 765.9 L1404.2 765.9 L1404.2 779.0 L1401.0 779.0 L1401.0 779.0 L1399.5 779.0 L1399.5 779.0 L1395.0 779.0 L1395.0 779.0 L1391.1 779.0 L1391.1 779.0 L1387.5 779.0 L1387.5 779.0 L1383.6 779.0 L1383.6 766.9 L1380.0 766.9 L1380.0 774.0 L1376.4 774.0 L1376.4 774.0 L1372.5 774.0 L1372.5 789.0 L1367.0 789.0 L1367.0 789.0 L1365.1 789.0 L1365.1 789.0 L1361.5 789.0 L1361.5 783.0 L1358.3 783.0 L1358.3 768.7 L1354.5 768.7 L1354.5 766.6 L1352.4 766.6 L1352.4 755.7 L1347.5 755.7 L1347.5 773.0 L1344.2 773.0 L1344.2 760.5 L1340.5 760.5 L1340.5 766.4 L1338.9 766.4 L1338.9 750.4 L1334.5 750.4 L1334.5 774.0 L1330.0 774.0 L1330.0 773.0 L1323.5 773.0 L1323.5 769.7 L1321.2 769.7 L1321.2 779.0 L1316.0 779.0 L1316.0 760.0 L1310.5 760.0 L1310.5 765.0 L1307.9 765.0 L1307.9 765.0 L1304.0 765.0 L1304.0 765.0 L1300.8 765.0 L1300.8 765.0 L1296.5 765.0 L1296.5 771.0 L1290.0 771.0 L1290.0 760.0 L1286.9 760.0 L1286.9 740.3 L1284.0 740.3 L1284.0 757.0 L1281.1 757.0 L1281.1 743.6 L1278.0 743.6 L1278.0 757.0 L1273.5 757.0 L1273.5 749.0 L1271.0 749.0 L1271.0 733.0 L1268.0 733.0 L1268.0 740.0 L1266.6 740.0 L1266.6 729.5 L1262.5 729.5 L1262.5 740.0 L1260.3 740.0 L1260.3 725.4 L1255.5 725.4 L1255.5 761.5 L1253.1 761.5 L1253.1 765.0 L1250.0 765.0 L1250.0 760.0 L1245.5 760.0 L1245.5 767.0 L1240.0 767.0 L1240.0 767.0 L1237.5 767.0 L1237.5 767.0 L1234.0 767.0 L1234.0 767.0 L1227.0 767.0 L1227.0 744.6 L1224.9 744.6 L1224.9 748.6 L1220.0 748.6 L1220.0 765.0 L1216.6 765.0 L1216.6 765.0 L1211.0 765.0 L1211.0 771.0 L1203.3 771.0 L1203.3 753.6 L1199.5 753.6 L1199.5 777.0 L1194.1 777.0 L1194.1 777.0 L1188.0 777.0 L1188.0 772.0 L1183.3 772.0 L1183.3 772.0 L1179.3 772.0 L1179.3 758.7 L1176.0 758.7 L1176.0 770.0 L1172.9 770.0 L1172.9 770.0 L1168.2 770.0 L1168.2 751.4 L1165.0 751.4 L1165.0 771.0 L1160.3 771.0 L1160.3 771.0 L1156.0 771.0 L1156.0 759.3 L1151.5 759.3 L1151.5 749.6 L1148.4 749.6 L1148.4 746.6 L1145.3 746.6 L1145.3 771.0 L1141.1 771.0 L1141.1 758.5 L1138.0 758.5 L1138.0 772.0 L1135.2 772.0 L1135.2 772.0 L1128.0 772.0 L1128.0 775.0 L1125.5 775.0 L1125.5 775.0 L1118.0 775.0 L1118.0 763.0 L1112.4 763.0 L1112.4 735.8 L1108.5 735.8 L1108.5 757.0 L1105.3 757.0 L1105.3 724.3 L1101.0 724.3 L1101.0 747.0 L1096.7 747.0 L1096.7 726.0 L1094.0 726.0 L1094.0 745.0 L1090.3 745.0 L1090.3 745.0 L1085.0 745.0 L1085.0 735.0 L1082.9 735.0 L1082.9 735.0 L1075.5 735.0 L1075.5 737.0 L1073.9 737.0 L1073.9 737.0 L1070.2 737.0 L1070.2 704.8 L1066.5 704.8 L1066.5 729.0 L1063.6 729.0 L1063.6 729.0 L1058.5 729.0 L1058.5 729.0 L1052.7 729.0 L1052.7 721.3 L1050.0 721.3 L1050.0 747.0 L1043.9 747.0 L1043.9 733.8 L1040.0 733.8 L1040.0 747.1 L1037.4 747.1 L1037.4 764.0 L1031.0 764.0 L1031.0 742.6 L1028.2 742.6 L1028.2 755.0 L1021.5 755.0 L1021.5 764.0 L1019.9 764.0 L1019.9 773.0 L1015.7 773.0 L1015.7 773.0 L1012.0 773.0 L1012.0 765.0 L1006.0 765.0 L1006.0 772.0 L1003.9 772.0 L1003.9 772.0 L1000.0 772.0 L1000.0 772.0 L997.8 772.0 L997.8 772.0 L994.8 772.0 L994.8 757.1 L991.5 757.1 L991.5 772.0 L986.8 772.0 L986.8 772.0 L983.0 772.0 L983.0 780.0 L975.0 780.0 L975.0 775.0 L970.3 775.0 L970.3 761.7 L967.0 761.7 L967.0 773.0 L961.9 773.0 L961.9 750.2 L958.0 750.2 L958.0 760.0 L955.9 760.0 L955.9 770.0 L951.1 770.0 L951.1 748.9 L948.0 748.9 L948.0 754.2 L945.3 754.2 L945.3 763.0 L939.3 763.0 L939.3 763.0 L935.5 763.0 L935.5 761.0 L933.2 761.0 L933.2 761.0 L926.2 761.0 L926.2 742.9 L923.0 742.9 L923.0 756.0 L920.3 756.0 L920.3 756.0 L915.6 756.0 L915.6 736.4 L913.0 736.4 L913.0 727.1 L910.3 727.1 L910.3 702.9 L905.5 702.9 L905.5 723.0 L900.5 723.0 L900.5 723.0 L896.0 723.0 L896.0 753.0 L893.8 753.0 L893.8 741.5 L890.5 741.5 L890.5 753.0 L883.0 753.0 L883.0 729.4 L881.0 729.4 L881.0 756.0 L874.0 756.0 L874.0 751.0 L869.6 751.0 L869.6 744.7 L865.0 744.7 L865.0 751.0 L859.0 751.0 L859.0 751.0 L855.5 751.0 L855.5 755.0 L851.0 755.0 L851.0 755.0 L847.7 755.0 L847.7 742.8 L844.0 742.8 L844.0 755.0 L836.6 755.0 L836.6 755.0 L833.0 755.0 L833.0 763.0 L829.2 763.0 L829.2 763.0 L826.1 763.0 L826.1 763.0 L823.0 763.0 L823.0 761.0 L818.8 761.0 L818.8 761.0 L812.5 761.0 L812.5 738.9 L808.8 738.9 L808.8 729.8 L804.0 729.8 L804.0 747.0 L799.8 747.0 L799.8 742.8 L797.0 742.8 L797.0 750.0 L793.7 750.0 L793.7 750.0 L790.0 750.0 L790.0 750.0 L784.0 750.0 L784.0 753.0 L779.6 753.0 L779.6 735.2 L776.5 735.2 L776.5 755.0 L769.6 755.0 L769.6 740.4 L767.0 740.4 L767.0 761.0 L760.8 761.0 L760.8 743.7 L758.0 743.7 L758.0 775.0 L753.6 775.0 L753.6 739.8 L751.0 739.8 L751.0 770.0 L745.0 770.0 L745.0 778.0 L741.3 778.0 L741.3 778.0 L738.0 778.0 L738.0 760.7 L736.0 760.7 L736.0 767.0 L731.0 767.0 L731.0 753.0 L728.3 753.0 L728.3 753.0 L724.5 753.0 L724.5 715.9 L722.2 715.9 L722.2 708.1 L717.5 708.1 L717.5 735.0 L713.5 735.0 L713.5 715.0 L710.5 715.0 L710.5 735.0 L706.4 735.0 L706.4 735.0 L703.0 735.0 L703.0 738.0 L698.9 738.0 L698.9 738.0 L695.0 738.0 L695.0 718.2 L692.3 718.2 L692.3 716.3 L688.0 716.3 L688.0 724.0 L686.3 724.0 L686.3 732.0 L681.5 732.0 L681.5 735.0 L675.0 735.0 L675.0 733.0 L673.0 733.0 L673.0 693.7 L669.0 693.7 L669.0 706.0 L665.1 706.0 L665.1 682.3 L662.0 682.3 L662.0 716.0 L655.0 716.0 L655.0 720.0 L652.8 720.0 L652.8 696.8 L649.0 696.8 L649.0 733.0 L643.0 733.0 L643.0 757.0 L636.5 757.0 L636.5 746.2 L634.0 746.2 L634.0 758.0 L630.0 758.0 L630.0 745.0 L625.0 745.0 L625.0 726.0 L621.0 726.0 L621.0 711.0 L616.8 711.0 L616.8 711.0 L613.0 711.0 L613.0 710.0 L610.0 710.0 L610.0 647.0 L606.8 647.0 L606.8 692.0 L603.0 692.0 L603.0 692.0 L599.0 692.0 L599.0 700.0 L594.5 700.0 L594.5 722.0 L588.5 722.0 L588.5 732.0 L581.5 732.0 L581.5 726.0 L577.8 726.0 L577.8 704.9 L575.0 704.9 L575.0 733.0 L572.2 733.0 L572.2 718.6 L568.0 718.6 L568.0 737.0 L560.5 737.0 L560.5 733.0 L556.8 733.0 L556.8 733.0 L552.0 733.0 L552.0 739.0 L547.8 739.0 L547.8 739.0 L543.0 739.0 L543.0 726.0 L538.5 726.0 L538.5 707.8 L535.0 707.8 L535.0 722.0 L532.6 722.0 L532.6 722.0 L528.0 722.0 L528.0 696.0 L524.0 696.0 L524.0 690.0 L522.0 690.0 L522.0 659.0 L520.0 659.0 L520.0 659.0 L518.0 659.0 L518.0 688.0 L515.0 688.0 L515.0 700.0 L510.5 700.0 L510.5 720.0 L504.0 720.0 L504.0 685.5 L501.9 685.5 L501.9 687.7 L497.0 687.7 L497.0 723.2 L495.1 723.2 L495.1 739.0 L490.0 739.0 L490.0 737.0 L485.1 737.0 L485.1 720.3 L482.0 720.3 L482.0 747.0 L478.5 747.0 L478.5 747.0 L473.0 747.0 L473.0 736.4 L469.3 736.4 L469.3 758.0 L463.5 758.0 L463.5 753.0 L458.0 753.0 L458.0 740.9 L455.0 740.9 L455.0 753.0 L451.6 753.0 L451.6 753.0 L446.5 753.0 L446.5 745.2 L444.9 745.2 L444.9 755.0 L437.5 755.0 L437.5 755.0 L433.3 755.0 L433.3 746.0 L430.5 746.0 L430.5 756.0 L427.9 756.0 L427.9 756.0 L422.0 756.0 L422.0 761.0 L416.6 761.0 L416.6 739.4 L413.0 739.4 L413.0 751.0 L406.0 751.0 L406.0 772.0 L400.0 772.0 L400.0 751.0 L395.0 751.0 L395.0 736.7 L393.3 736.7 L393.3 753.0 L388.0 753.0 L388.0 756.0 L383.8 756.0 L383.8 756.0 L379.5 756.0 L379.5 753.0 L375.1 753.0 L375.1 753.0 L372.1 753.0 L372.1 738.4 L369.0 738.4 L369.0 735.9 L364.8 735.9 L364.8 747.0 L360.0 747.0 L360.0 766.0 L357.6 766.0 L357.6 766.0 L353.5 766.0 L353.5 728.3 L351.4 728.3 L351.4 724.4 L346.5 724.4 L346.5 746.0 L343.2 746.0 L343.2 746.0 L339.5 746.0 L339.5 740.0 L337.4 740.0 L337.4 755.0 L332.0 755.0 L332.0 747.0 L329.0 747.0 L329.0 722.9 L324.0 722.9 L324.0 745.0 L320.4 745.0 L320.4 715.8 L317.0 715.8 L317.0 736.0 L314.3 736.0 L314.3 736.0 L309.0 736.0 L309.0 737.0 L304.4 737.0 L304.4 712.2 L299.5 712.2 L299.5 734.0 L294.5 734.0 L294.5 734.0 L291.0 734.0 L291.0 750.0 L288.6 750.0 L288.6 750.0 L284.0 750.0 L284.0 705.0 L281.3 705.0 L281.3 669.3 L278.0 669.3 L278.0 694.0 L274.7 694.0 L274.7 660.2 L272.0 660.2 L272.0 682.0 L268.0 682.0 L268.0 670.0 L265.5 670.0 L265.5 656.0 L263.0 656.0 L263.0 607.0 L260.0 607.0 L260.0 607.0 L256.5 607.0 L256.5 680.0 L253.5 680.0 L253.5 702.0 L250.0 702.0 L250.0 702.0 L245.0 702.0 L245.0 707.0 L239.0 707.0 L239.0 710.0 L237.2 710.0 L237.2 726.0 L234.0 726.0 L234.0 726.0 L231.4 726.0 L231.4 726.0 L228.0 726.0 L228.0 708.3 L225.7 708.3 L225.7 726.0 L221.0 726.0 L221.0 716.0 L217.6 716.0 L217.6 700.6 L214.0 700.6 L214.0 723.0 L210.8 723.0 L210.8 723.0 L207.2 723.0 L207.2 701.9 L204.5 701.9 L204.5 715.4 L200.7 715.4 L200.7 723.0 L195.0 723.0 L195.0 732.0 L188.0 732.0 L188.0 732.0 L181.5 732.0 L181.5 717.0 L178.2 717.0 L178.2 717.0 L174.5 717.0 L174.5 712.0 L172.4 712.0 L172.4 712.0 L166.5 712.0 L166.5 694.1 L163.7 694.1 L163.7 712.0 L158.0 712.0 L158.0 704.4 L155.8 704.4 L155.8 711.0 L149.0 711.0 L149.0 704.0 L144.0 704.0Z" fill="#f04141" stroke="#f04141"/>
<path d="M144.0 427.0 L147.0 427.0 L147.0 443.0 L152.5 443.0 L152.5 444.0 L157.5 444.0 L157.5 446.0 L162.5 446.0 L162.5 459.0 L165.9 459.0 L165.9 459.0 L167.5 459.0 L167.5 449.0 L172.5 449.0 L172.5 449.0 L175.5 449.0 L175.5 449.0 L177.5 449.0 L177.5 460.0 L182.5 460.0 L182.5 464.0 L187.5 464.0 L187.5 457.0 L190.6 457.0 L190.6 457.0 L192.5 457.0 L192.5 459.0 L197.5 459.0 L197.5 457.0 L202.5 457.0 L202.5 458.0 L207.5 458.0 L207.5 452.0 L212.5 452.0 L212.5 452.0 L217.5 452.0 L217.5 430.0 L222.5 430.0 L222.5 430.0 L225.6 430.0 L225.6 430.0 L227.5 430.0 L227.5 452.0 L232.5 452.0 L232.5 449.0 L237.5 449.0 L237.5 454.0 L242.0 454.0 L242.0 430.0 L245.5 430.0 L245.5 395.0 L248.5 395.0 L248.5 358.0 L251.5 358.0 L251.5 300.0 L254.0 300.0 L254.0 244.0 L256.5 244.0 L256.5 244.0 L259.5 244.0 L259.5 244.0 L262.0 244.0 L262.0 270.0 L264.5 270.0 L264.5 330.0 L267.5 330.0 L267.5 350.0 L270.5 350.0 L270.5 380.0 L273.5 380.0 L273.5 410.0 L277.5 410.0 L277.5 443.0 L282.5 443.0 L282.5 443.0 L287.5 443.0 L287.5 452.0 L290.7 452.0 L290.7 452.0 L292.5 452.0 L292.5 452.0 L297.5 452.0 L297.5 452.0 L302.5 452.0 L302.5 454.0 L307.5 454.0 L307.5 463.0 L312.5 463.0 L312.5 463.0 L317.5 463.0 L317.5 465.0 L322.5 465.0 L322.5 465.0 L327.5 465.0 L327.5 484.0 L332.5 484.0 L332.5 485.0 L335.5 485.0 L335.5 485.0 L337.5 485.0 L337.5 485.0 L342.5 485.0 L342.5 476.0 L347.5 476.0 L347.5 476.0 L352.5 476.0 L352.5 482.0 L355.8 482.0 L355.8 482.0 L358.0 482.0 L358.0 496.9 L361.0 496.9 L361.0 481.0 L364.0 481.0 L364.0 497.7 L367.4 497.7 L367.4 487.0 L371.0 487.0 L371.0 494.6 L374.6 494.6 L374.6 474.0 L377.5 474.0 L377.5 468.0 L383.0 468.0 L383.0 482.0 L388.5 482.0 L388.5 482.0 L394.0 482.0 L394.0 473.0 L401.0 473.0 L401.0 473.0 L404.4 473.0 L404.4 473.0 L407.4 473.0 L407.4 473.0 L410.0 473.0 L410.0 497.2 L412.8 497.2 L412.8 476.0 L418.5 476.0 L418.5 463.0 L422.2 463.0 L422.2 463.0 L425.5 463.0 L425.5 468.0 L429.7 468.0 L429.7 468.0 L432.0 468.0 L432.0 491.9 L435.3 491.9 L435.3 477.0 L438.0 477.0 L438.0 460.0 L442.9 460.0 L442.9 487.0 L445.0 487.0 L445.0 481.0 L448.9 481.0 L448.9 481.0 L452.0 481.0 L452.0 471.0 L455.1 471.0 L455.1 471.0 L459.0 471.0 L459.0 481.9 L463.3 481.9 L463.3 463.0 L467.0 463.0 L467.0 478.2 L470.9 478.2 L470.9 449.0 L474.5 449.0 L474.5 435.0 L479.8 435.0 L479.8 451.0 L481.5 451.0 L481.5 465.0 L485.9 465.0 L485.9 465.0 L489.0 465.0 L489.0 501.5 L492.2 501.5 L492.2 435.0 L496.5 435.0 L496.5 451.0 L501.1 451.0 L501.1 443.0 L502.5 443.0 L502.5 414.0 L506.5 414.0 L506.5 390.0 L509.5 390.0 L509.5 368.0 L513.0 368.0 L513.0 368.0 L517.0 368.0 L517.0 368.0 L520.0 368.0 L520.0 303.0 L521.5 303.0 L521.5 272.0 L522.5 272.0 L522.5 241.0 L523.8 241.0 L523.8 210.0 L525.2 210.0 L525.2 194.0 L528.0 194.0 L528.0 194.0 L532.0 194.0 L532.0 194.0 L535.0 194.0 L535.0 209.0 L537.0 209.0 L537.0 219.0 L538.8 219.0 L538.8 400.0 L541.8 400.0 L541.8 408.0 L546.0 408.0 L546.0 410.0 L550.0 410.0 L550.0 435.0 L556.0 435.0 L556.0 464.1 L560.7 464.1 L560.7 445.0 L563.0 445.0 L563.0 441.0 L568.0 441.0 L568.0 441.0 L571.4 441.0 L571.4 441.0 L574.0 441.0 L574.0 466.8 L578.4 466.8 L578.4 428.0 L580.5 428.0 L580.5 450.8 L583.9 450.8 L583.9 443.0 L586.5 443.0 L586.5 475.2 L591.4 475.2 L591.4 425.3 L592.5 425.3 L592.5 386.0 L595.8 386.0 L595.8 386.0 L597.5 386.0 L597.5 348.0 L601.5 348.0 L601.5 348.0 L604.2 348.0 L604.2 321.0 L606.8 321.0 L606.8 321.0 L609.5 321.0 L609.5 321.0 L612.0 321.0 L612.0 349.0 L614.5 349.0 L614.5 375.0 L618.0 375.0 L618.0 421.0 L622.5 421.0 L622.5 441.0 L625.6 441.0 L625.6 441.0 L628.0 441.0 L628.0 480.4 L630.8 480.4 L630.8 454.0 L633.5 454.0 L633.5 470.6 L638.5 470.6 L638.5 463.2 L639.5 463.2 L639.5 470.0 L643.0 470.0 L643.0 470.0 L645.0 470.0 L645.0 423.0 L648.5 423.0 L648.5 400.0 L651.5 400.0 L651.5 384.0 L655.0 384.0 L655.0 384.0 L660.0 384.0 L660.0 417.0 L663.0 417.0 L663.0 417.0 L665.5 417.0 L665.5 445.7 L669.5 445.7 L669.5 455.4 L671.0 455.4 L671.0 434.0 L677.0 434.0 L677.0 459.5 L680.0 459.5 L680.0 441.0 L683.0 441.0 L683.0 461.3 L687.2 461.3 L687.2 448.4 L689.0 448.4 L689.0 453.9 L691.7 453.9 L691.7 445.0 L695.0 445.0 L695.0 463.6 L699.1 463.6 L699.1 454.8 L700.5 454.8 L700.5 468.2 L703.8 468.2 L703.8 443.0 L707.0 443.0 L707.0 461.0 L710.3 461.0 L710.3 434.0 L714.0 434.0 L714.0 403.0 L718.5 403.0 L718.5 376.0 L722.0 376.0 L722.0 376.0 L725.5 376.0 L725.5 392.0 L729.0 392.0 L729.0 430.0 L732.5 430.0 L732.5 476.0 L737.0 476.0 L737.0 483.0 L740.7 483.0 L740.7 483.0 L743.0 483.0 L743.0 481.0 L746.3 481.0 L746.3 481.0 L749.5 481.0 L749.5 507.7 L753.9 507.7 L753.9 481.0 L756.5 481.0 L756.5 496.9 L759.3 496.9 L759.3 481.0 L764.0 481.0 L764.0 489.5 L768.7 489.5 L768.7 476.0 L772.5 476.0 L772.5 498.6 L775.8 498.6 L775.8 481.0 L781.5 481.0 L781.5 458.0 L789.5 458.0 L789.5 449.0 L796.0 449.0 L796.0 452.0 L802.0 452.0 L802.0 493.4 L806.3 493.4 L806.3 499.1 L809.0 499.1 L809.0 471.0 L814.5 471.0 L814.5 471.0 L817.0 471.0 L817.0 495.8 L820.5 495.8 L820.5 490.0 L825.5 490.0 L825.5 506.7 L829.6 506.7 L829.6 457.0 L835.5 457.0 L835.5 446.0 L840.1 446.0 L840.1 446.0 L845.0 446.0 L845.0 456.0 L849.2 456.0 L849.2 456.0 L853.0 456.0 L853.0 489.7 L856.5 489.7 L856.5 473.0 L861.0 473.0 L861.0 489.7 L864.8 489.7 L864.8 474.0 L869.5 474.0 L869.5 497.1 L873.7 497.1 L873.7 468.0 L878.0 468.0 L878.0 477.5 L881.7 477.5 L881.7 460.0 L887.0 460.0 L887.0 492.1 L891.8 492.1 L891.8 441.0 L894.0 441.0 L894.0 421.0 L898.0 421.0 L898.0 421.0 L902.0 421.0 L902.0 430.0 L905.0 430.0 L905.0 430.0 L909.0 430.0 L909.0 466.4 L913.2 466.4 L913.2 438.0 L915.5 438.0 L915.5 463.0 L922.5 463.0 L922.5 477.0 L929.5 477.0 L929.5 465.0 L936.0 465.0 L936.0 491.7 L939.1 491.7 L939.1 479.0 L943.0 479.0 L943.0 493.0 L946.2 493.0 L946.2 493.0 L951.5 493.0 L951.5 485.0 L956.1 485.0 L956.1 485.0 L962.5 485.0 L962.5 497.9 L966.8 497.9 L966.8 490.0 L973.5 490.0 L973.5 501.0 L979.3 501.0 L979.3 501.0 L983.5 501.0 L983.5 489.0 L987.1 489.0 L987.1 489.0 L994.0 489.0 L994.0 500.5 L998.3 500.5 L998.3 489.0 L1001.5 489.0 L1001.5 482.0 L1006.2 482.0 L1006.2 488.2 L1009.0 488.2 L1009.0 506.4 L1011.8 506.4 L1011.8 478.0 L1019.0 478.0 L1019.0 495.6 L1023.0 495.6 L1023.0 473.0 L1026.5 473.0 L1026.5 497.0 L1029.0 497.0 L1029.0 489.4 L1032.0 489.4 L1032.0 474.0 L1035.1 474.0 L1035.1 496.3 L1039.0 496.3 L1039.0 495.2 L1042.2 495.2 L1042.2 446.0 L1046.4 446.0 L1046.4 468.8 L1048.5 468.8 L1048.5 441.0 L1055.5 441.0 L1055.5 426.0 L1061.0 426.0 L1061.0 426.0 L1067.5 426.0 L1067.5 440.0 L1073.1 440.0 L1073.1 446.3 L1075.5 446.3 L1075.5 441.0 L1079.0 441.0 L1079.0 441.0 L1083.0 441.0 L1083.0 484.9 L1087.9 484.9 L1087.9 477.8 L1091.0 477.8 L1091.0 440.0 L1095.4 440.0 L1095.4 440.0 L1100.5 440.0 L1100.5 460.0 L1105.9 460.0 L1105.9 460.0 L1108.9 460.0 L1108.9 472.9 L1111.5 472.9 L1111.5 498.5 L1116.0 498.5 L1116.0 476.0 L1122.5 476.0 L1122.5 502.0 L1125.9 502.0 L1125.9 493.0 L1129.0 493.0 L1129.0 512.4 L1133.5 512.4 L1133.5 509.3 L1138.8 509.3 L1138.8 487.0 L1146.0 487.0 L1146.0 473.0 L1152.4 473.0 L1152.4 473.0 L1156.0 473.0 L1156.0 490.0 L1159.8 490.0 L1159.8 490.0 L1163.5 490.0 L1163.5 497.0 L1166.9 497.0 L1166.9 489.0 L1171.5 489.0 L1171.5 513.2 L1175.0 513.2 L1175.0 497.0 L1180.0 497.0 L1180.0 485.0 L1188.5 485.0 L1188.5 493.0 L1193.7 493.0 L1193.7 493.0 L1198.0 493.0 L1198.0 511.0 L1202.1 511.0 L1202.1 487.0 L1207.5 487.0 L1207.5 475.0 L1213.4 475.0 L1213.4 475.0 L1216.0 475.0 L1216.0 486.0 L1222.5 486.0 L1222.5 497.9 L1224.5 497.9 L1224.5 512.9 L1228.8 512.9 L1228.8 488.0 L1234.0 488.0 L1234.0 502.0 L1238.6 502.0 L1238.6 484.0 L1243.5 484.0 L1243.5 508.9 L1247.3 508.9 L1247.3 460.0 L1253.0 460.0 L1253.0 469.7 L1257.1 469.7 L1257.1 451.0 L1262.0 451.0 L1262.0 455.0 L1268.5 455.0 L1268.5 446.0 L1275.0 446.0 L1275.0 467.0 L1278.9 467.0 L1278.9 467.0 L1284.0 467.0 L1284.0 471.0 L1288.2 471.0 L1288.2 471.0 L1291.5 471.0 L1291.5 485.2 L1293.5 485.2 L1293.5 487.6 L1297.8 487.6 L1297.8 475.0 L1304.0 475.0 L1304.0 479.0 L1310.7 479.0 L1310.7 479.0 L1315.5 479.0 L1315.5 516.2 L1318.6 516.2 L1318.6 497.0 L1322.4 497.0 L1322.4 497.0 L1325.0 497.0 L1325.0 488.0 L1330.0 488.0 L1330.0 487.0 L1333.5 487.0 L1333.5 494.0 L1336.6 494.0 L1336.6 494.0 L1340.0 494.0 L1340.0 481.0 L1344.4 481.0 L1344.4 481.0 L1346.5 481.0 L1346.5 481.0 L1351.0 481.0 L1351.0 504.0 L1354.5 504.0 L1354.5 504.0 L1358.5 504.0 L1358.5 519.5 L1363.3 519.5 L1363.3 514.6 L1364.5 514.6 L1364.5 489.0 L1368.1 489.0 L1368.1 489.0 L1371.5 489.0 L1371.5 506.0 L1379.0 506.0 L1379.0 523.1 L1383.3 523.1 L1383.3 503.0 L1386.5 503.0 L1386.5 509.0 L1391.5 509.0 L1391.5 509.0 L1395.0 509.0 L1395.0 506.0 L1398.2 506.0 L1398.2 506.0 L1401.0 506.0 L1401.0 506.0 L1404.2 506.0 L1404.2 506.0 L1408.0 506.0 L1408.0 506.0 L1413.5 506.0 L1413.5 506.0 L1419.0 506.0 L1419.0 507.0 L1422.5 507.0 L1422.5 507.0 L1424.5 507.0 L1424.5 507.0 L1429.5 507.0 L1429.5 520.8 L1432.9 520.8 L1432.9 514.0 L1435.0 514.0 L1435.0 500.0 L1441.0 500.0 L1441.0 510.0 L1445.0 510.0 L1445.0 510.0 L1446.0 510.0 L1446.0 550.0 L1445.0 550.0 L1445.0 550.0 L1441.0 550.0 L1441.0 550.0 L1438.1 550.0 L1438.1 540.8 L1435.0 540.8 L1435.0 553.0 L1432.7 553.0 L1432.7 542.3 L1429.5 542.3 L1429.5 553.0 L1424.5 553.0 L1424.5 564.0 L1419.0 564.0 L1419.0 564.0 L1413.5 564.0 L1413.5 535.3 L1412.5 535.3 L1412.5 542.5 L1408.0 542.5 L1408.0 554.0 L1403.9 554.0 L1403.9 535.0 L1401.0 535.0 L1401.0 536.3 L1399.4 536.3 L1399.4 547.0 L1395.0 547.0 L1395.0 559.0 L1391.5 559.0 L1391.5 559.0 L1386.5 559.0 L1386.5 551.0 L1381.5 551.0 L1381.5 530.1 L1379.0 530.1 L1379.0 531.1 L1377.0 531.1 L1377.0 551.0 L1371.5 551.0 L1371.5 556.0 L1364.5 556.0 L1364.5 546.0 L1362.6 546.0 L1362.6 528.2 L1358.5 528.2 L1358.5 541.0 L1354.5 541.0 L1354.5 569.0 L1351.0 569.0 L1351.0 569.0 L1346.5 569.0 L1346.5 549.0 L1343.8 549.0 L1343.8 549.0 L1340.0 549.0 L1340.0 553.0 L1333.5 553.0 L1333.5 553.0 L1330.0 553.0 L1330.0 553.0 L1325.0 553.0 L1325.0 560.0 L1323.3 560.0 L1323.3 560.0 L1320.3 560.0 L1320.3 560.0 L1315.5 560.0 L1315.5 540.0 L1311.9 540.0 L1311.9 540.0 L1307.1 540.0 L1307.1 540.0 L1304.0 540.0 L1304.0 547.0 L1301.7 547.0 L1301.7 547.0 L1298.0 547.0 L1298.0 529.5 L1293.5 529.5 L1293.5 545.0 L1286.7 545.0 L1286.7 511.7 L1284.0 511.7 L1284.0 519.5 L1281.8 519.5 L1281.8 525.0 L1275.0 525.0 L1275.0 503.4 L1272.4 503.4 L1272.4 525.0 L1268.5 525.0 L1268.5 525.0 L1265.7 525.0 L1265.7 505.2 L1262.0 505.2 L1262.0 528.0 L1259.0 528.0 L1259.0 528.0 L1253.0 528.0 L1253.0 528.0 L1247.8 528.0 L1247.8 517.6 L1243.5 517.6 L1243.5 534.0 L1237.1 534.0 L1237.1 514.7 L1234.0 514.7 L1234.0 549.0 L1229.0 549.0 L1229.0 549.0 L1224.5 549.0 L1224.5 549.0 L1219.8 549.0 L1219.8 549.0 L1216.0 549.0 L1216.0 542.0 L1211.3 542.0 L1211.3 532.7 L1207.5 532.7 L1207.5 542.0 L1204.7 542.0 L1204.7 542.0 L1198.0 542.0 L1198.0 549.0 L1193.5 549.0 L1193.5 549.0 L1188.5 549.0 L1188.5 549.0 L1186.0 549.0 L1186.0 549.0 L1180.0 549.0 L1180.0 537.0 L1175.9 537.0 L1175.9 537.0 L1171.5 537.0 L1171.5 547.0 L1167.2 547.0 L1167.2 547.0 L1163.5 547.0 L1163.5 547.0 L1160.1 547.0 L1160.1 547.0 L1156.0 547.0 L1156.0 545.0 L1152.7 545.0 L1152.7 545.0 L1146.0 545.0 L1146.0 545.0 L1140.6 545.0 L1140.6 545.0 L1133.5 545.0 L1133.5 533.0 L1128.7 533.0 L1128.7 541.0 L1125.1 541.0 L1125.1 533.5 L1122.5 533.5 L1122.5 541.0 L1115.2 541.0 L1115.2 530.4 L1111.5 530.4 L1111.5 539.0 L1105.3 539.0 L1105.3 539.0 L1100.5 539.0 L1100.5 531.0 L1096.7 531.0 L1096.7 531.0 L1091.0 531.0 L1091.0 522.0 L1086.9 522.0 L1086.9 489.7 L1083.0 489.7 L1083.0 514.0 L1080.4 514.0 L1080.4 483.1 L1075.5 483.1 L1075.5 515.0 L1071.7 515.0 L1071.7 468.2 L1067.5 468.2 L1067.5 476.6 L1065.6 476.6 L1065.6 479.5 L1061.0 479.5 L1061.0 500.0 L1060.1 500.0 L1060.1 470.4 L1055.5 470.4 L1055.5 517.0 L1053.3 517.0 L1053.3 504.3 L1048.5 504.3 L1048.5 494.2 L1045.1 494.2 L1045.1 517.0 L1039.0 517.0 L1039.0 532.0 L1034.5 532.0 L1034.5 532.0 L1029.0 532.0 L1029.0 542.0 L1023.7 542.0 L1023.7 542.0 L1019.0 542.0 L1019.0 523.7 L1017.1 523.7 L1017.1 536.0 L1012.9 536.0 L1012.9 520.2 L1009.0 520.2 L1009.0 524.8 L1005.4 524.8 L1005.4 525.1 L1001.5 525.1 L1001.5 532.0 L997.8 532.0 L997.8 519.3 L994.0 519.3 L994.0 530.0 L987.7 530.0 L987.7 516.7 L983.5 516.7 L983.5 541.0 L978.1 541.0 L978.1 528.2 L973.5 528.2 L973.5 527.1 L970.1 527.1 L970.1 549.0 L965.7 549.0 L965.7 518.9 L962.5 518.9 L962.5 528.2 L957.9 528.2 L957.9 536.0 L954.7 536.0 L954.7 514.4 L951.5 514.4 L951.5 541.5 L949.5 541.5 L949.5 552.0 L946.2 552.0 L946.2 552.0 L943.0 552.0 L943.0 545.0 L938.8 545.0 L938.8 531.6 L936.0 531.6 L936.0 543.2 L934.0 543.2 L934.0 547.0 L929.5 547.0 L929.5 523.0 L925.2 523.0 L925.2 514.1 L922.5 514.1 L922.5 517.0 L920.4 517.0 L920.4 528.0 L915.5 528.0 L915.5 509.0 L912.1 509.0 L912.1 495.8 L909.0 495.8 L909.0 509.0 L905.0 509.0 L905.0 509.0 L902.0 509.0 L902.0 482.0 L898.0 482.0 L898.0 490.0 L894.0 490.0 L894.0 517.0 L891.4 517.0 L891.4 517.0 L887.0 517.0 L887.0 509.0 L884.1 509.0 L884.1 509.0 L878.0 509.0 L878.0 527.5 L876.5 527.5 L876.5 532.0 L869.5 532.0 L869.5 529.0 L864.7 529.0 L864.7 512.3 L861.0 512.3 L861.0 525.0 L857.2 525.0 L857.2 511.2 L853.0 511.2 L853.0 522.0 L849.0 522.0 L849.0 510.8 L845.0 510.8 L845.0 522.0 L841.2 522.0 L841.2 522.0 L835.5 522.0 L835.5 513.9 L831.7 513.9 L831.7 522.0 L825.5 522.0 L825.5 515.0 L821.4 515.0 L821.4 504.1 L817.0 504.1 L817.0 514.0 L813.2 514.0 L813.2 514.0 L809.0 514.0 L809.0 533.0 L802.0 533.0 L802.0 488.0 L800.4 488.0 L800.4 502.0 L796.0 502.0 L796.0 517.0 L789.5 517.0 L789.5 519.0 L785.8 519.0 L785.8 519.0 L781.5 519.0 L781.5 505.9 L779.9 505.9 L779.9 523.0 L776.0 523.0 L776.0 505.4 L772.5 505.4 L772.5 527.0 L767.5 527.0 L767.5 527.0 L764.0 527.0 L764.0 522.0 L761.3 522.0 L761.3 536.0 L756.5 536.0 L756.5 541.0 L749.5 541.0 L749.5 529.0 L746.7 529.0 L746.7 510.7 L743.0 510.7 L743.0 534.0 L740.5 534.0 L740.5 534.0 L737.0 534.0 L737.0 538.0 L732.5 538.0 L732.5 520.0 L729.0 520.0 L729.0 498.0 L725.5 498.0 L725.5 480.0 L722.0 480.0 L722.0 476.0 L718.5 476.0 L718.5 476.0 L714.0 476.0 L714.0 494.0 L707.0 494.0 L707.0 501.0 L700.5 501.0 L700.5 501.0 L695.0 501.0 L695.0 487.0 L691.8 487.0 L691.8 468.6 L689.0 468.6 L689.0 498.0 L683.0 498.0 L683.0 498.0 L677.0 498.0 L677.0 492.0 L674.6 492.0 L674.6 470.2 L671.0 470.2 L671.0 494.0 L670.5 494.0 L670.5 460.5 L665.5 460.5 L665.5 474.0 L660.0 474.0 L660.0 472.0 L655.0 472.0 L655.0 472.0 L651.5 472.0 L651.5 480.0 L648.5 480.0 L648.5 507.0 L645.0 507.0 L645.0 507.0 L639.5 507.0 L639.5 518.0 L633.5 518.0 L633.5 518.0 L628.0 518.0 L628.0 498.0 L622.5 498.0 L622.5 494.0 L618.0 494.0 L618.0 470.0 L614.5 470.0 L614.5 463.0 L612.0 463.0 L612.0 430.0 L609.5 430.0 L609.5 410.0 L606.8 410.0 L606.8 430.0 L604.2 430.0 L604.2 440.0 L601.5 440.0 L601.5 443.0 L597.5 443.0 L597.5 470.0 L592.5 470.0 L592.5 497.0 L586.5 497.0 L586.5 479.0 L584.4 479.0 L584.4 468.4 L580.5 468.4 L580.5 509.0 L574.0 509.0 L574.0 516.0 L568.0 516.0 L568.0 519.0 L563.0 519.0 L563.0 500.0 L559.2 500.0 L559.2 480.9 L556.0 480.9 L556.0 500.0 L552.6 500.0 L552.6 463.9 L550.0 463.9 L550.0 490.0 L546.0 490.0 L546.0 479.0 L541.8 479.0 L541.8 470.0 L538.8 470.0 L538.8 463.0 L537.0 463.0 L537.0 463.0 L535.0 463.0 L535.0 440.0 L532.0 440.0 L532.0 386.0 L528.0 386.0 L528.0 420.0 L525.2 420.0 L525.2 446.0 L523.8 446.0 L523.8 446.0 L522.5 446.0 L522.5 446.0 L521.5 446.0 L521.5 446.0 L520.0 446.0 L520.0 440.0 L517.0 440.0 L517.0 430.0 L513.0 430.0 L513.0 440.0 L509.5 440.0 L509.5 470.0 L506.5 470.0 L506.5 500.0 L502.5 500.0 L502.5 479.0 L500.0 479.0 L500.0 479.0 L496.5 479.0 L496.5 518.0 L492.4 518.0 L492.4 518.0 L489.0 518.0 L489.0 509.0 L486.3 509.0 L486.3 501.0 L481.5 501.0 L481.5 489.3 L479.9 489.3 L479.9 515.0 L474.5 515.0 L474.5 528.0 L471.8 528.0 L471.8 528.0 L467.0 528.0 L467.0 499.1 L465.2 499.1 L465.2 526.0 L459.0 526.0 L459.0 525.0 L452.0 525.0 L452.0 541.0 L448.6 541.0 L448.6 541.0 L445.0 541.0 L445.0 526.0 L438.0 526.0 L438.0 531.0 L432.0 531.0 L432.0 536.0 L430.4 536.0 L430.4 509.1 L425.5 509.1 L425.5 528.0 L423.0 528.0 L423.0 528.0 L418.5 528.0 L418.5 534.1 L416.4 534.1 L416.4 541.0 L410.0 541.0 L410.0 533.0 L404.3 533.0 L404.3 514.9 L401.0 514.9 L401.0 528.0 L397.2 528.0 L397.2 528.0 L394.0 528.0 L394.0 536.0 L388.5 536.0 L388.5 530.0 L385.9 530.0 L385.9 518.4 L383.0 518.4 L383.0 531.0 L377.5 531.0 L377.5 533.0 L371.0 533.0 L371.0 523.0 L364.0 523.0 L364.0 533.0 L358.0 533.0 L358.0 538.0 L356.0 538.0 L356.0 538.0 L352.5 538.0 L352.5 538.0 L347.5 538.0 L347.5 519.0 L342.5 519.0 L342.5 526.0 L337.5 526.0 L337.5 523.0 L332.5 523.0 L332.5 515.0 L327.5 515.0 L327.5 515.0 L322.5 515.0 L322.5 533.0 L317.5 533.0 L317.5 533.0 L315.7 533.0 L315.7 533.0 L312.5 533.0 L312.5 515.0 L307.5 515.0 L307.5 514.0 L305.6 514.0 L305.6 514.0 L302.5 514.0 L302.5 509.0 L297.5 509.0 L297.5 531.0 L292.5 531.0 L292.5 531.0 L290.7 531.0 L290.7 531.0 L287.5 531.0 L287.5 496.0 L282.5 496.0 L282.5 496.0 L280.9 496.0 L280.9 496.0 L277.5 496.0 L277.5 496.0 L273.5 496.0 L273.5 496.0 L270.5 496.0 L270.5 490.0 L267.5 490.0 L267.5 470.0 L264.5 470.0 L264.5 420.0 L262.0 420.0 L262.0 386.0 L259.5 386.0 L259.5 386.0 L256.5 386.0 L256.5 420.0 L254.0 420.0 L254.0 460.0 L251.5 460.0 L251.5 482.0 L248.5 482.0 L248.5 485.0 L245.5 485.0 L245.5 500.0 L242.0 500.0 L242.0 506.0 L237.5 506.0 L237.5 510.0 L232.5 510.0 L232.5 501.0 L227.5 501.0 L227.5 519.0 L222.5 519.0 L222.5 519.0 L217.5 519.0 L217.5 518.0 L215.9 518.0 L215.9 518.0 L212.5 518.0 L212.5 517.0 L207.5 517.0 L207.5 500.0 L205.8 500.0 L205.8 500.0 L202.5 500.0 L202.5 504.0 L197.5 504.0 L197.5 506.0 L192.5 506.0 L192.5 515.0 L190.8 515.0 L190.8 515.0 L187.5 515.0 L187.5 515.0 L182.5 515.0 L182.5 517.0 L177.5 517.0 L177.5 528.0 L172.5 528.0 L172.5 529.0 L167.5 529.0 L167.5 504.0 L162.5 504.0 L162.5 510.0 L157.5 510.0 L157.5 509.0 L152.5 509.0 L152.5 489.0 L147.0 489.0 L147.0 489.0 L144.0 489.0Z" fill="#1b6fde" stroke="#1b6fde"/>
</g>
<g font-family='"Liberation Serif", serif' font-weight="bold" font-size="56" fill="#000">
<text x="143.7" y="1141" text-anchor="middle">10</text><text x="243.8" y="1141" text-anchor="middle">15</text><text x="343.9" y="1141" text-anchor="middle">20</text><text x="443.9" y="1141" text-anchor="middle">25</text><text x="544.0" y="1141" text-anchor="middle">30</text><text x="644.1" y="1141" text-anchor="middle">35</text><text x="744.2" y="1141" text-anchor="middle">40</text><text x="844.2" y="1141" text-anchor="middle">45</text><text x="944.3" y="1141" text-anchor="middle">50</text><text x="1044.4" y="1141" text-anchor="middle">55</text><text x="1144.5" y="1141" text-anchor="middle">60</text><text x="1244.5" y="1141" text-anchor="middle">65</text><text x="1344.6" y="1141" text-anchor="middle">70</text><text x="1444.7" y="1141" text-anchor="middle">75</text>
</g>
<g font-family='"Liberation Serif", serif' font-weight="bold" font-size="59.5" fill="#000">
<text y="1237"><tspan x="452">Position</tspan><tspan x="660">[</tspan><tspan x="687.8">°</tspan><tspan x="712">2</tspan><tspan x="743.5">θ</tspan><tspan x="774">]</tspan><tspan x="791.8">(Copper(Cu))</tspan></text>
</g>
<text transform="translate(58.7,721.7) rotate(-90)" font-family='"Liberation Serif", serif' font-weight="bold" font-size="60">Intensity/(a.u.)</text>
<g font-family='"Liberation Serif", serif' font-weight="bold" font-size="49">
<text x="1046.7" y="350">CuMnO</text><text x="1221" y="350" font-size="33.5">x</text><text x="1238.9" y="350">-Ce-PVA</text>
<text x="1036.7" y="633">CuMnO</text><text x="1212" y="633" font-size="33.5">x</text><text x="1227.8" y="633">-Ce-PVP</text>
<text x="1126.1" y="850.5">CuMnO</text><text x="1300.3" y="850.5" font-size="33.5">x</text><text x="1317.1" y="850.5">-Ce</text>
</g>
<g fill="#000">
<polygon points="234.8,191.7 278,191.7 256.4,234"/>
<polygon points="518,181.3 532.55,163 547.1,181.3 532.55,199.6"/>
<path d="M605.94,276.90L608.06,276.90L608.06,280.51L619.16,291.34C622.20,293.75 622.20,294.95 622.20,296.15L622.20,300.97C622.20,303.37 619.77,305.18 616.12,305.18C613.08,305.18 610.04,303.37 608.22,301.27L607.91,305.78C608.82,308.19 611.26,310.59 615.51,311.80L619.46,311.80L619.46,313.00L594.54,313.00L594.54,311.80L598.49,311.80C602.74,310.59 605.18,308.19 606.09,305.78L605.78,301.27C603.96,303.37 600.92,305.18 597.88,305.18C594.23,305.18 591.80,303.37 591.80,300.97L591.80,296.15C591.80,294.95 591.80,293.75 594.84,291.34L605.94,280.51Z"/>
<rect x="640" y="344" width="28" height="27"/>
<polygon points="703.9,364.8 747,364.8 725.5,322.9"/>
<polygon points="888.9,396.45000000000005 903.55,377.8 918.2,396.45000000000005 903.55,415.1"/>
<polygon points="1053,402.3 1067.5,384 1082,402.3 1067.5,420.6"/>
<path d="M1268.00,397.80L1270.10,397.80L1270.10,401.42L1281.09,412.28C1284.10,414.69 1284.10,415.90 1284.10,417.11L1284.10,421.93C1284.10,424.35 1281.69,426.16 1278.08,426.16C1275.07,426.16 1272.06,424.35 1270.25,422.24L1269.95,426.76C1270.86,429.17 1273.26,431.59 1277.48,432.79L1281.39,432.79L1281.39,434.00L1256.71,434.00L1256.71,432.79L1260.62,432.79C1264.84,431.59 1267.24,429.17 1268.15,426.76L1267.85,422.24C1266.04,424.35 1263.03,426.16 1260.02,426.16C1256.41,426.16 1254.00,424.35 1254.00,421.93L1254.00,417.11C1254.00,415.90 1254.00,414.69 1257.01,412.28L1268.00,401.42Z"/>
</g>
<g font-family='"Liberation Serif", serif' font-size="55.5" fill="#000">
<rect x="255" y="90" width="25" height="24"/><text x="284" y="114">Cu</text><text x="349" y="128" font-size="38">1.5</text><text x="395.8" y="114">Mn</text><text x="473.9" y="128" font-size="38">1.5</text><text x="522.5" y="114">O</text><text x="561.9" y="128" font-size="38">4</text><polygon points="617.1,113.8 656,113.8 636.5,74.9"/><text x="663" y="114">CuO</text><polygon points="801,76 840.1,76 820.5,115"/><text x="845.7" y="114">Mn</text><text x="921.6" y="128" font-size="38">6</text><text x="942.6" y="114">O</text><text x="983" y="128" font-size="38">12</text><polygon points="1065,97.4 1077.5,80.9 1090,97.4 1077.5,113.9"/><text x="1091" y="114">CeO</text><text x="1190" y="128" font-size="38">2</text><path d="M1237.72,79.70L1239.48,79.70L1239.48,83.12L1248.68,93.38C1251.20,95.66 1251.20,96.80 1251.20,97.94L1251.20,102.50C1251.20,104.78 1249.18,106.49 1246.16,106.49C1243.64,106.49 1241.12,104.78 1239.61,102.78L1239.36,107.06C1240.11,109.34 1242.13,111.62 1245.66,112.76L1248.93,112.76L1248.93,113.90L1228.27,113.90L1228.27,112.76L1231.54,112.76C1235.07,111.62 1237.09,109.34 1237.84,107.06L1237.59,102.78C1236.08,104.78 1233.56,106.49 1231.04,106.49C1228.02,106.49 1226.00,104.78 1226.00,102.50L1226.00,97.94C1226.00,96.80 1226.00,95.66 1228.52,93.38L1237.72,83.12Z"/><text x="1253" y="114">Mn</text><text x="1328.9" y="128" font-size="38">2</text><text x="1350" y="114">O</text><text x="1388.6" y="128" font-size="38">3</text>
</g>
</svg></body></html>
